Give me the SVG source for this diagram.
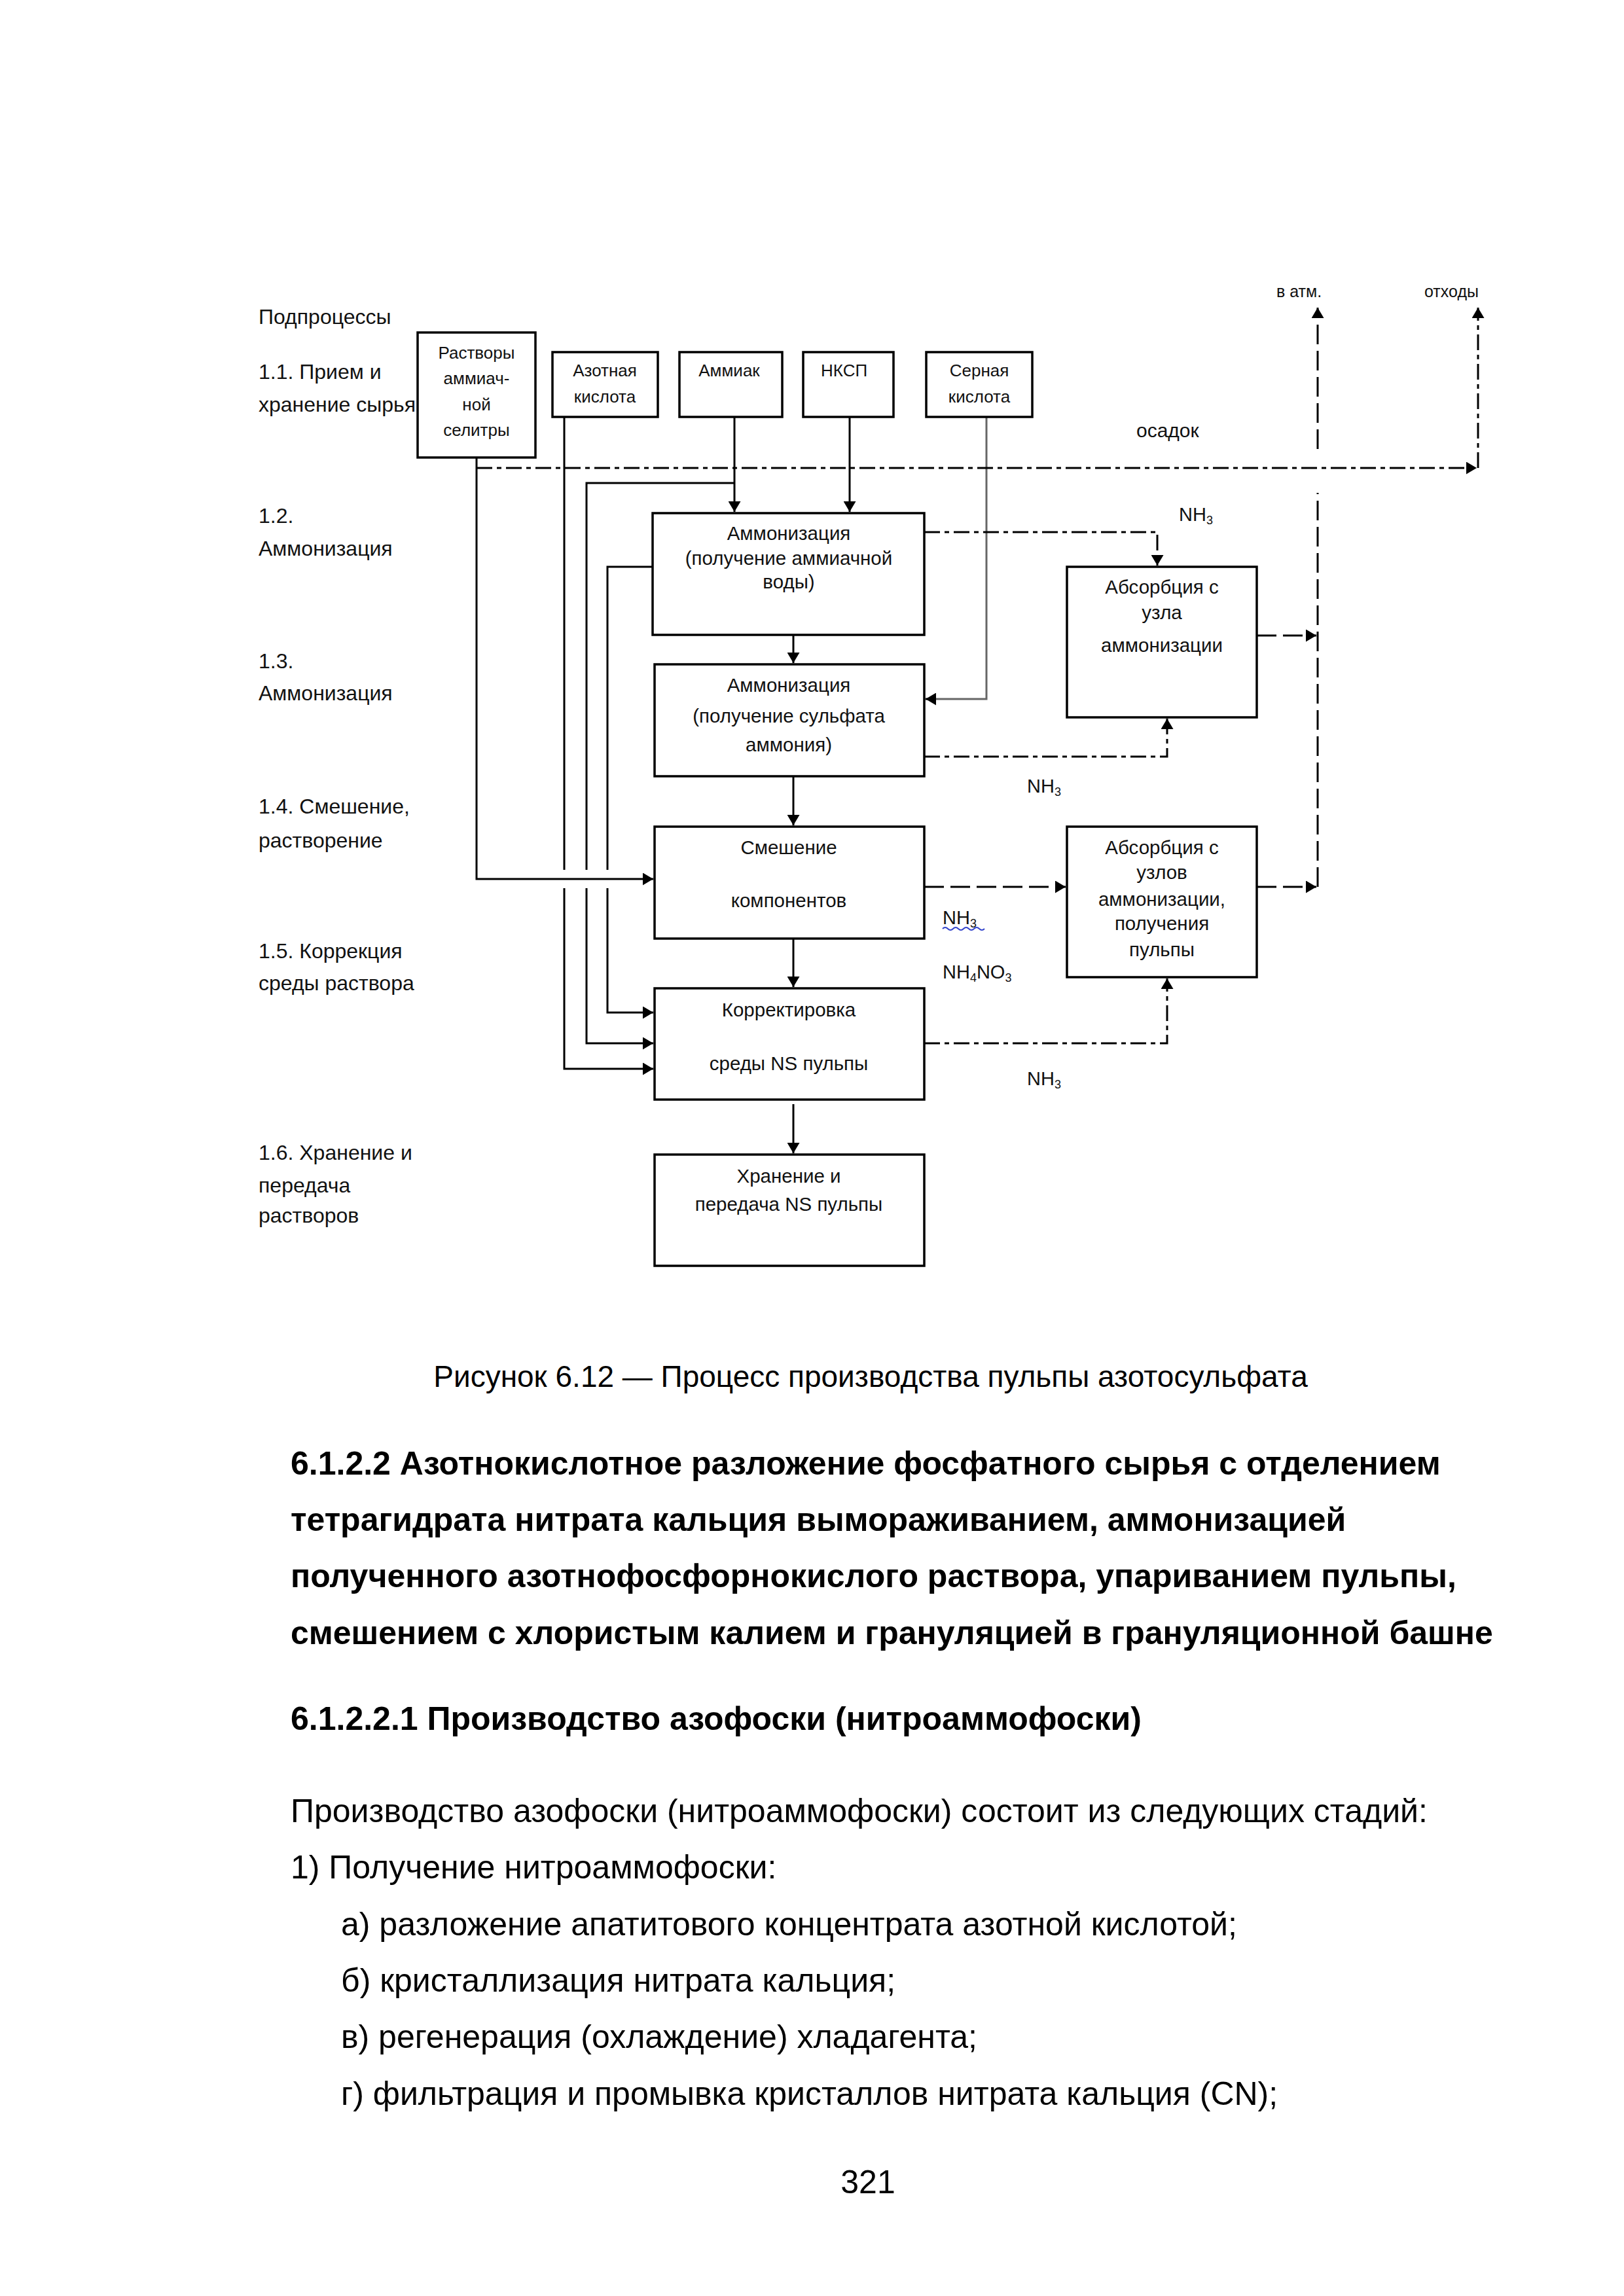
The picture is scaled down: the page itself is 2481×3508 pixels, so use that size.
<svg xmlns="http://www.w3.org/2000/svg" width="2481" height="3508" viewBox="0 0 2481 3508">
<defs>
<style>
.box{fill:#fff;stroke:#000;stroke-width:3.5}
.ln{fill:none;stroke:#000;stroke-width:3}
.gl{fill:none;stroke:#666;stroke-width:3}
.dd{fill:none;stroke:#000;stroke-width:3;stroke-dasharray:24 7 7 7}
.ds{fill:none;stroke:#000;stroke-width:3;stroke-dasharray:30 10}
.t{font-family:"Liberation Sans",Arial,sans-serif;fill:#111}
.lab{font-size:32px}
.bx{font-size:29.5px;text-anchor:middle}
.sm{font-size:26px}
.mid{text-anchor:middle}
.cap{font-size:46px;fill:#000}
.body{font-size:50px;fill:#000}
.hd{font-size:50px;font-weight:bold;fill:#000}
</style>
<marker id="ah" viewBox="0 0 16 19" markerWidth="16" markerHeight="19" refX="16" refY="9.5" orient="auto" markerUnits="userSpaceOnUse">
<path d="M0,0 L16,9.5 L0,19 Z" fill="#000"/>
</marker>
</defs>
<rect width="2481" height="3508" fill="#fff"/>

<g id="labels" class="t lab">
<text x="395" y="495">Подпроцессы</text>
<text x="395" y="579">1.1. Прием и</text>
<text x="395" y="629">хранение сырья</text>
<text x="395" y="799">1.2.</text>
<text x="395" y="849">Аммонизация</text>
<text x="395" y="1021">1.3.</text>
<text x="395" y="1070">Аммонизация</text>
<text x="395" y="1243">1.4. Смешение,</text>
<text x="395" y="1295">растворение</text>
<text x="395" y="1464">1.5. Коррекция</text>
<text x="395" y="1513">среды раствора</text>
<text x="395" y="1772">1.6. Хранение и</text>
<text x="395" y="1822">передача</text>
<text x="395" y="1868">растворов</text>
</g>

<g id="connectors">
<path class="ln" d="M728 699 V1343 H998" marker-end="url(#ah)"/>
<path class="ln" d="M862 637 V1329 M862 1357 V1633 H998" marker-end="url(#ah)"/>
<path class="ln" d="M1122 637 V782" marker-end="url(#ah)"/>
<path class="ln" d="M1122 738 H896 V1329 M896 1357 V1594 H998" marker-end="url(#ah)"/>
<path class="ln" d="M1298 637 V782" marker-end="url(#ah)"/>
<path class="gl" d="M1507 637 V1068 H1416"/>
<path class="ln" d="M1430 1068 H1414" marker-end="url(#ah)"/>
<path class="ln" d="M997 866 H928 V1329 M928 1357 V1547 H998" marker-end="url(#ah)"/>
<path class="ln" d="M1212 970 V1013" marker-end="url(#ah)"/>
<path class="ln" d="M1212 1186 V1261" marker-end="url(#ah)"/>
<path class="ln" d="M1212 1434 V1508" marker-end="url(#ah)"/>
<path class="ln" d="M1212 1687 V1762" marker-end="url(#ah)"/>
<path class="dd" d="M728 715 H2256" marker-end="url(#ah)"/>
<path class="dd" d="M2258 715 V470" marker-end="url(#ah)"/>
<path class="dd" d="M1412 813 H1768 V864" marker-end="url(#ah)"/>
<path class="dd" d="M1412 1156 H1783 V1098" marker-end="url(#ah)"/>
<path class="ds" d="M1412 1355 H1628" marker-end="url(#ah)"/>
<path class="dd" d="M1412 1594 H1783 V1495" marker-end="url(#ah)"/>
<path class="ds" d="M1920 971 H2011" marker-end="url(#ah)"/>
<path class="ds" d="M1920 1355 H2011" marker-end="url(#ah)"/>
<path class="ds" d="M2013 1355 V753"/>
<path class="ds" d="M2013 686 V470" marker-end="url(#ah)"/>
</g>

<g id="n-rastvory">
<rect class="box" x="638" y="508" width="180" height="191"/>
<text class="t sm mid" x="728" y="548" font-size="25">Растворы</text>
<text class="t sm mid" x="728" y="587">аммиач-</text>
<text class="t sm mid" x="728" y="627">ной</text>
<text class="t sm mid" x="728" y="666">селитры</text>
</g>
<g id="n-azot">
<rect class="box" x="844" y="538" width="161" height="99"/>
<text class="t sm mid" x="924" y="575">Азотная</text>
<text class="t sm mid" x="924" y="615">кислота</text>
</g>
<g id="n-ammiak">
<rect class="box" x="1038" y="538" width="157" height="99"/>
<text class="t sm mid" x="1114" y="575" font-size="27">Аммиак</text>
</g>
<g id="n-nksp">
<rect class="box" x="1227" y="538" width="138" height="99"/>
<text class="t sm" x="1254" y="575" font-size="24">НКСП</text>
</g>
<g id="n-sernaya">
<rect class="box" x="1415" y="538" width="162" height="99"/>
<text class="t sm mid" x="1496" y="575">Серная</text>
<text class="t sm mid" x="1496" y="615">кислота</text>
</g>
<g id="n-amm1">
<rect class="box" x="997" y="784" width="415" height="186"/>
<text class="t bx" x="1205" y="825">Аммонизация</text>
<text class="t bx" x="1205" y="863">(получение аммиачной</text>
<text class="t bx" x="1205" y="899">воды)</text>
</g>
<g id="n-amm2">
<rect class="box" x="1000" y="1015" width="412" height="171"/>
<text class="t bx" x="1205" y="1057">Аммонизация</text>
<text class="t bx" x="1205" y="1104">(получение сульфата</text>
<text class="t bx" x="1205" y="1148">аммония)</text>
</g>
<g id="n-mix">
<rect class="box" x="1000" y="1263" width="412" height="171"/>
<text class="t bx" x="1205" y="1305">Смешение</text>
<text class="t bx" x="1205" y="1386">компонентов</text>
</g>
<g id="n-korr">
<rect class="box" x="1000" y="1510" width="412" height="170"/>
<text class="t bx" x="1205" y="1553">Корректировка</text>
<text class="t bx" x="1205" y="1635">среды NS пульпы</text>
</g>
<g id="n-store">
<rect class="box" x="1000" y="1764" width="412" height="170"/>
<text class="t bx" x="1205" y="1807">Хранение и</text>
<text class="t bx" x="1205" y="1850">передача NS пульпы</text>
</g>
<g id="n-abs1">
<rect class="box" x="1630" y="866" width="290" height="230"/>
<text class="t bx" x="1775" y="907">Абсорбция с</text>
<text class="t bx" x="1775" y="946">узла</text>
<text class="t bx" x="1775" y="996">аммонизации</text>
</g>
<g id="n-abs2">
<rect class="box" x="1630" y="1263" width="290" height="230"/>
<text class="t bx" x="1775" y="1305">Абсорбция с</text>
<text class="t bx" x="1775" y="1343">узлов</text>
<text class="t bx" x="1775" y="1384">аммонизации,</text>
<text class="t bx" x="1775" y="1421">получения</text>
<text class="t bx" x="1775" y="1461">пульпы</text>
</g>

<g id="flow-labels" class="t">
<text x="1950" y="454" font-size="25">в атм.</text>
<text x="2176" y="454" font-size="25">отходы</text>
<text x="1736" y="668" font-size="30">осадок</text>
<text x="1801" y="796" font-size="29">NH<tspan font-size="18" dy="5">3</tspan></text>
<text x="1569" y="1211" font-size="29">NH<tspan font-size="18" dy="5">3</tspan></text>
<text x="1440" y="1412" font-size="29">NH<tspan font-size="18" dy="5">3</tspan></text>
<path d="M1440 1419 q4 -4 8 0 t8 0 t8 0 t8 0 t8 0 t8 0 t8 0 t8 0" fill="none" stroke="#3344cc" stroke-width="2"/>
<text x="1440" y="1495" font-size="29">NH<tspan font-size="18" dy="5">4</tspan><tspan dy="-5">NO</tspan><tspan font-size="18" dy="5">3</tspan></text>
<text x="1569" y="1658" font-size="29">NH<tspan font-size="18" dy="5">3</tspan></text>
</g>

<g id="page-text" class="t">
<text class="cap mid" x="1330" y="2119">Рисунок 6.12 — Процесс производства пульпы азотосульфата</text>
<text class="hd" x="444" y="2253">6.1.2.2 Азотнокислотное разложение фосфатного сырья с отделением</text>
<text class="hd" x="444" y="2339">тетрагидрата нитрата кальция вымораживанием, аммонизацией</text>
<text class="hd" x="444" y="2425">полученного азотнофосфорнокислого раствора, упариванием пульпы,</text>
<text class="hd" x="444" y="2512">смешением с хлористым калием и грануляцией в грануляционной башне</text>
<text class="hd" x="444" y="2643">6.1.2.2.1 Производство азофоски (нитроаммофоски)</text>
<text class="body" x="444" y="2784">Производство азофоски (нитроаммофоски) состоит из следующих стадий:</text>
<text class="body" x="444" y="2870">1) Получение нитроаммофоски:</text>
<text class="body" x="521" y="2957">а) разложение апатитового концентрата азотной кислотой;</text>
<text class="body" x="521" y="3043">б) кристаллизация нитрата кальция;</text>
<text class="body" x="521" y="3129">в) регенерация (охлаждение) хладагента;</text>
<text class="body" x="521" y="3216">г) фильтрация и промывка кристаллов нитрата кальция (CN);</text>
<text class="body mid" x="1326" y="3351">321</text>
</g>
</svg>
